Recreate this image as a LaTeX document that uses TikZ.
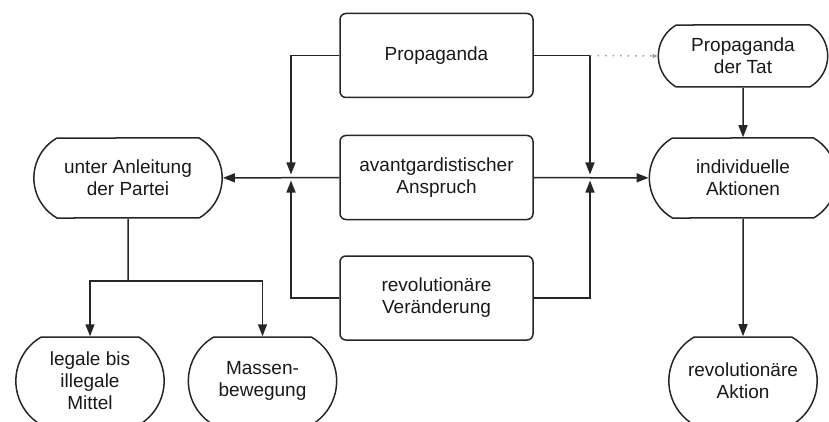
\documentclass[tikz,border=0pt]{standalone}
\usepackage{fontspec}
\setmainfont{Liberation Sans}
\usepackage{tikz}
\usetikzlibrary{shapes.misc,arrows.meta}
\tikzset{box/.style={rectangle,draw,rounded corners=6pt,minimum width=193pt,minimum height=84pt,align=center,text=black!90}}
\tikzset{term/.style={rounded rectangle,rounded rectangle arc length=120,draw,minimum height=80pt,align=center,text=black!90}}

\begin{document}
\begin{tikzpicture}[>={Triangle[length=12pt,width=9pt]},x=1pt,y=-1pt,line width=1.5pt,draw=black!85,font=\fontsize{19}{22}\selectfont]
    \clip (0,0) rectangle (829,422);
    \node[box] (p)at (436.5,55.5) {Propaganda};
    \node[box] (av)at (436.5,177.5) {avantgardistischer\\Anspruch};
    \node[box] (rv)at (436.5,298) {revolutionäre\\Veränderung};
    \node[term,minimum width=195pt] (u)at (128,178) {unter Anleitung\\der Partei};
    \node[term,minimum width=194pt] (ia)at (743,178) {individuelle\\Aktionen};
    \node[term,minimum width=176pt,minimum height=62pt] (pt)at (743,56) {Propaganda\\der Tat};
    \node[term,minimum width=155pt,minimum height=88pt] (l)at (90,381) {legale bis\\illegale\\Mittel};
    \node[term,minimum width=155pt,minimum height=88pt] (m)at (262.5,381) {Massen-\\bewegung};
    \node[term,minimum width=155pt,minimum height=88pt] (ra)at (743,381) {revolutionäre\\Aktion};

    \coordinate (jl) at (291,177.5);
    \coordinate (jr) at (590,177.5);
    \coordinate (jt) at (590,55.5);
    \coordinate (br) at (128,281);

    \draw [->] (av) to [] (u);
    \draw [->] (av) to [] (ia);
    \draw [->,shorten >=3pt] (p.west) -| (jl);
    \draw [->,shorten >=3pt] (rv.west) -| (jl);
    \draw [->,shorten >=3pt] (p.east) -| (jr);
    \draw [->,shorten >=3pt] (rv.east) -| (jr);
    \draw [gray!80,dash pattern=on 1.5pt off 6pt,-{Triangle[length=5pt,width=4pt]}] (jt) to [] (pt.west);
    \draw [->] (pt) to [] (ia);
    \draw [->] (ia) to [] (ra);
    \draw [] (u) to [] (br);
    \draw [->] (br) -| (l.north);
    \draw [->] (br) -| (m.north);
\end{tikzpicture}
\end{document}
